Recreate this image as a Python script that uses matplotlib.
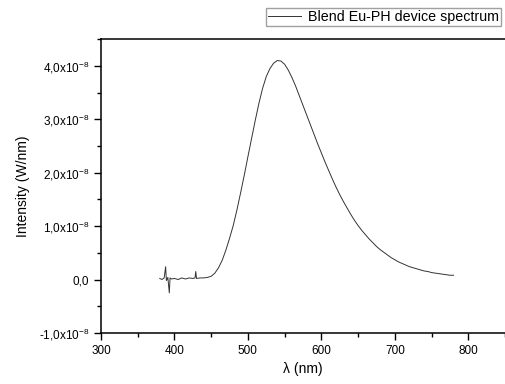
import numpy as np
import matplotlib.pyplot as plt
from matplotlib.ticker import MultipleLocator, FuncFormatter

plt.rcParams['font.family'] = ['Liberation Sans', 'DejaVu Sans']

# wavelength (nm) and intensity (x1e-8 W/nm)
wl = [380, 383, 386, 388, 389, 391, 393, 394, 396, 400, 405, 410, 415, 420,
      425, 428, 429, 430, 435, 440, 445, 450, 455, 460, 465, 470, 475, 480,
      485, 490, 495, 500, 505, 510, 515, 520, 525, 530, 535, 540, 545, 550,
      555, 560, 565, 570, 575, 580, 585, 590, 595, 600, 605, 610, 615, 620,
      625, 630, 635, 640, 645, 650, 655, 660, 665, 670, 675, 680, 685, 690,
      695, 700, 705, 710, 715, 720, 725, 730, 735, 740, 745, 750, 755, 760,
      765, 770, 775, 780]
inten = [0.02, 0.0, 0.03, 0.24, -0.02, 0.04, -0.25, 0.03, 0.01, 0.02, 0.0,
         0.03, 0.01, 0.03, 0.02, 0.03, 0.15, 0.02, 0.03, 0.03, 0.04, 0.06,
         0.12, 0.22, 0.36, 0.55, 0.77, 1.01, 1.30, 1.62, 1.95, 2.30, 2.64,
         2.98, 3.30, 3.58, 3.80, 3.95, 4.05, 4.10, 4.09, 4.03, 3.92, 3.78,
         3.62, 3.44, 3.26, 3.08, 2.90, 2.72, 2.54, 2.37, 2.20, 2.04, 1.88,
         1.73, 1.59, 1.46, 1.34, 1.22, 1.11, 1.01, 0.92, 0.84, 0.76, 0.69,
         0.62, 0.56, 0.51, 0.46, 0.41, 0.37, 0.33, 0.30, 0.27, 0.24, 0.22,
         0.20, 0.18, 0.16, 0.15, 0.13, 0.12, 0.11, 0.10, 0.09, 0.08, 0.08]

wl = np.array(wl)
inten = np.array(inten) * 1e-8

fig = plt.figure(figsize=(5.05, 3.84), dpi=100)
ax = fig.add_axes([0.2, 0.133, 0.8, 0.765])

ax.plot(wl, inten, color='#333333', lw=0.7, label='Blend Eu-PH device spectrum')

ax.set_xlim(300, 850)
ax.set_ylim(-1e-8, 4.5e-8)
ax.xaxis.set_major_locator(MultipleLocator(100))
ax.xaxis.set_minor_locator(MultipleLocator(50))
ax.yaxis.set_major_locator(MultipleLocator(1e-8))
ax.yaxis.set_minor_locator(MultipleLocator(0.5e-8))


def yfmt(v, pos):
    m = round(v / 1e-8, 1)
    if m == 0:
        return '0,0'
    return ('%.1f' % m).replace('.', ',') + r'x10$^{\mathregular{-8}}$'


ax.yaxis.set_major_formatter(FuncFormatter(yfmt))
ax.tick_params(which='major', direction='out', length=5, width=1, labelsize=8.5)
ax.tick_params(which='minor', direction='out', length=3, width=1)
ax.spines['right'].set_visible(False)
for s in ['left', 'bottom', 'top']:
    ax.spines[s].set_linewidth(1.1)

ax.set_xlabel('λ (nm)', fontsize=10, labelpad=4)
ax.set_ylabel('Intensity (W/nm)', fontsize=10, labelpad=6)

fig.legend(loc='upper left', bbox_to_anchor=(0.527, 0.98), fontsize=10.3,
           frameon=True, fancybox=False, edgecolor='#888888',
           handlelength=2.3, handletextpad=0.5, borderpad=0.15,
           borderaxespad=0)

fig.savefig('out.png', dpi=100)
